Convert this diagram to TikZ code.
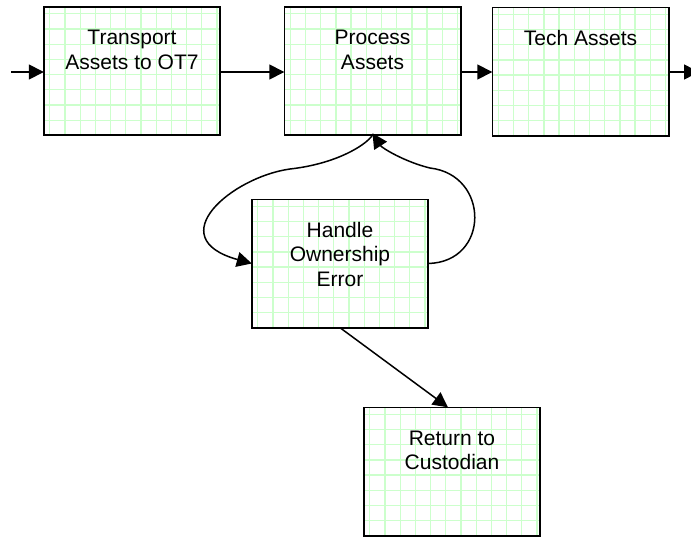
\documentclass[tikz,border=0pt]{standalone}
\usepackage{fontspec}
\setmainfont{Liberation Sans}
\usetikzlibrary{arrows.meta,calc}
\definecolor{gridgreen}{RGB}{204,255,204}
\tikzset{
  boxstyle/.style={draw=none, minimum width=176pt, minimum height=128pt, inner sep=0pt, fill=white},
  frame/.style={draw=black, line width=1.6pt},
  gridline/.style={draw=gridgreen, line width=1.3pt},
  txt/.style={inner sep=0pt, anchor=base, font=\fontsize{21pt}{24.5pt}\selectfont},
  conn/.style={line width=1.5pt, -{Triangle[length=15pt,width=15pt]}}
}
\newcommand{\lines}[1]{\begin{tabular}[t]{@{}c@{}}#1\end{tabular}}
\newcommand{\gridbox}[1]{%
  \begin{scope}
    \clip (#1.north west) rectangle (#1.south east);
    \begin{scope}[shift={(#1.north west)}]
      \foreach \k in {0,...,11} \draw[gridline] ({6+15.2*\k},0) -- ({6+15.2*\k},130);
      \foreach \k in {0,...,7} \draw[gridline] (0,{7+15.2*\k}) -- (178,{7+15.2*\k});
    \end{scope}
  \end{scope}
  \draw[frame] (#1.north west) rectangle (#1.south east);
}
\begin{document}
\begin{tikzpicture}[x=1pt,y=-1pt]
\useasboundingbox (0,0) rectangle (691,536);
\node[boxstyle] (b1) at (132,71) {};
\node[boxstyle] (b2) at (372.5,71) {};
\node[boxstyle] (b3) at (580.5,71.5) {};
\node[boxstyle] (b4) at (340,263.5) {};
\node[boxstyle] (b5) at (452,471.5) {};
\gridbox{b1}\gridbox{b2}\gridbox{b3}\gridbox{b4}\gridbox{b5}
\node[txt] (t1) at ($(b1.north)+(0,38)$) {\lines{Transport\\Assets to OT7}};
\node[txt] (t2) at ($(b2.north)+(0,38)$) {\lines{Process\\Assets}};
\node[txt] (t3) at ($(b3.north)+(0,38)$) {\lines{Tech Assets}};
\node[txt] (t4) at ($(b4.north)+(0,38)$) {\lines{Handle\\Ownership\\Error}};
\node[txt] (t5) at ($(b5.north)+(0,38)$) {\lines{Return to\\Custodian}};
\coordinate (in) at (11,72);
\coordinate (out) at (699,72);
\coordinate (lm) at (290,169);
\coordinate (rm) at (430,168);
\draw[conn] (in) -- (b1.west |- in);
\draw[conn] (b1.east |- in) -- (b2.west |- in);
\draw[conn] (b2.east |- in) -- (b3.west |- in);
\draw[conn] (b3.east |- in) -- (out);
\draw[conn] (b2.south) .. controls (365,146) and (335,164) .. (lm)
  .. controls (232,177) and (160,238) .. (b4.west);
\draw[conn] (b4.east) .. controls (490,262) and (490,175) .. (rm)
  .. controls (405,162) and (382,148) .. ([yshift=2pt]b2.south);
\draw[conn] (b4.south) -- ([xshift=-4pt]b5.north);
\end{tikzpicture}
\end{document}
